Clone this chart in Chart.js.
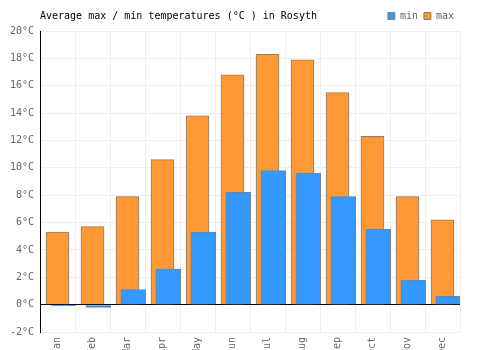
<!DOCTYPE html>
<html>
<head>
<meta charset="utf-8">
<script src="https://cdn.jsdelivr.net/npm/chart.js@4.4.0/dist/chart.umd.min.js"></script>
<style>
  html, body { margin: 0; padding: 0; background: #fff; }
</style>
</head>
<body>
<canvas id="tempChart" width="500" height="350"></canvas>
<script>
var chartTitle = "Average max / min temperatures (°C ) in Rosyth";
var months = ["Jan", "Feb", "Mar", "Apr", "May", "Jun", "Jul", "Aug", "Sep", "Oct", "Nov", "Dec"];
var minTemps = [-0.1, -0.2, 1.1, 2.6, 5.3, 8.2, 9.8, 9.6, 7.9, 5.5, 1.8, 0.6];
var maxTemps = [5.3, 5.7, 7.9, 10.6, 13.8, 16.8, 18.3, 17.9, 15.5, 12.3, 7.9, 6.2];
var yTickValues = [-2, 0, 2, 4, 6, 8, 10, 12, 14, 16, 18, 20];

// min bars sit a bit right of the category centre, so they use their own hidden axis
var minShift = 0.166;

Chart.defaults.font.family = '"DejaVu Sans Mono", monospace';
Chart.defaults.font.size = 10;
Chart.defaults.color = '#666';

var titlePlugin = {
  id: 'titleText',
  afterDraw: function(chart) {
    var ctx = chart.ctx;
    ctx.save();
    ctx.font = '10px "DejaVu Sans Mono", monospace';
    ctx.fillStyle = '#000';
    ctx.textBaseline = 'middle';
    ctx.textAlign = 'left';
    ctx.fillText(chartTitle, chart.chartArea.left, 16);
    ctx.restore();
  }
};

var ctx = document.getElementById("tempChart").getContext('2d');
var tempChart = new Chart(ctx, {
  type: 'bar',
  data: {
    labels: months,
    datasets: [{
      label: 'min',
      data: minTemps.map(function(v, i) { return {x: i, y: v}; }),
      xAxisID: 'xMin',
      backgroundColor: '#3399ff',
      borderColor: '#808080',
      borderWidth: 1,
      barThickness: 25,
      grouped: false
    }, {
      label: 'max',
      data: maxTemps,
      xAxisID: 'x',
      backgroundColor: '#ff9933',
      borderColor: '#808080',
      borderWidth: 1,
      barThickness: 23,
      grouped: false
    }]
  },
  options: {
    responsive: false,
    animation: false,
    devicePixelRatio: 1,
    layout: { padding: { top: 5, right: 40, left: 0, bottom: 0 } },
    plugins: {
      legend: {
        position: 'top',
        align: 'end',
        labels: { boxWidth: 7, boxHeight: 7, padding: 6, color: '#666' }
      },
      tooltip: { enabled: false }
    },
    scales: {
      x: {
        type: 'category',
        offset: true,
        grid: { color: '#eeeeee', drawTicks: false, offset: true },
        border: { color: '#eeeeee' },
        ticks: { minRotation: 90, maxRotation: 90, autoSkip: false, padding: 5, color: '#666' },
        afterFit: function(scale) { scale.height = 18; }
      },
      xMin: {
        type: 'linear',
        display: false,
        offset: false,
        min: -0.5 - minShift,
        max: months.length - 0.5 - minShift,
        ticks: { stepSize: 1, includeBounds: false }
      },
      y: {
        min: -2,
        max: 20,
        grid: {
          drawTicks: false,
          color: function(c) { return c.tick && c.tick.value === 0 ? '#000' : '#eeeeee'; }
        },
        border: { color: '#000' },
        ticks: {
          padding: 6,
          color: '#666',
          callback: function(v) { return v + '°C'; }
        },
        afterBuildTicks: function(scale) {
          scale.ticks = yTickValues.map(function(v) { return {value: v}; });
        },
        afterFit: function(scale) { scale.width = 40; }
      }
    }
  },
  plugins: [titlePlugin]
});
</script>
</body>
</html>
